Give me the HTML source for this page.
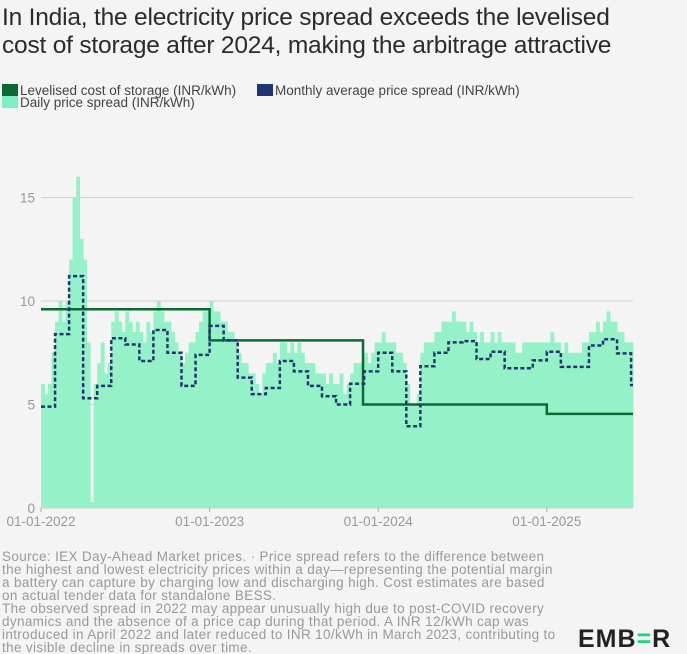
<!DOCTYPE html>
<html><head><meta charset="utf-8"><style>
body{margin:0;background:#f4f4f4;font-family:"Liberation Sans",sans-serif;}
#wrap{position:relative;width:687px;height:654px;overflow:hidden;background:#f4f4f4}
#title{position:absolute;left:2px;top:4px;font-size:24.5px;line-height:28px;color:#2b2b2b;letter-spacing:-0.2px;white-space:nowrap}
.leg{position:absolute;font-size:13.5px;color:#444;line-height:12px;white-space:nowrap}
.sw{display:inline-block;width:16px;height:12px;vertical-align:-1px;margin-right:2px}
#src{position:absolute;left:2px;top:550px;width:600px;font-size:13.5px;line-height:13px;color:#999;white-space:nowrap;letter-spacing:0.35px}
#logo{position:absolute;left:578px;top:625px;font-size:25px;font-weight:bold;color:#222;letter-spacing:1px}
</style></head><body>
<div id="wrap">
<div id="title">In India, the electricity price spread exceeds the levelised<br>cost of storage after 2024, making the arbitrage attractive</div>
<div class="leg" style="left:2px;top:84px"><span class="sw" style="background:#0a6b32"></span>Levelised cost of storage (INR/kWh)</div>
<div class="leg" style="left:257px;top:84px"><span class="sw" style="background:#1f3570"></span>Monthly average price spread (INR/kWh)</div>
<div class="leg" style="left:2px;top:96px"><span class="sw" style="background:#7af0c0"></span>Daily price spread (INR/kWh)</div>
<svg id="chart" width="687" height="654" style="position:absolute;left:0;top:0"></svg>
<div id="src">Source: IEX Day-Ahead Market prices. · Price spread refers to the difference between<br>the highest and lowest electricity prices within a day—representing the potential margin<br>a battery can capture by charging low and discharging high. Cost estimates are based<br>on actual tender data for standalone BESS.<br>The observed spread in 2022 may appear unusually high due to post-COVID recovery<br>dynamics and the absence of a price cap during that period. A INR 12/kWh cap was<br>introduced in April 2022 and later reduced to INR 10/kWh in March 2023, contributing to<br>the visible decline in spreads over time.</div>
<div id="logo">EMB<span style="color:#1fd47a">=</span>R</div>
</div>
<script>
const yTicks=[0,5,10,15];
const xTickLabels=["01-01-2022","01-01-2023","01-01-2024","01-01-2025"];
const xTickYears=[2022,2023,2024,2025];
// monthly average from Jan 2022 (index 0) to Jul 2025
const monthlyAvg=[4.9,8.4,11.2,5.3,5.9,8.2,7.9,7.1,8.6,7.5,5.9,7.4,
8.8,8.1,6.3,5.5,5.8,7.1,6.6,5.9,5.4,5.0,6.0,6.6,
7.5,6.6,3.95,6.85,7.5,8.0,8.06,7.2,7.55,6.75,6.75,7.13,
7.55,6.82,6.82,7.85,8.15,7.47,5.94];
// LCOS steps: start (year fraction), value
const lcosStarts=[2022.0,2023.0,2023.91,2025.0];
const lcosValues=[9.6,8.1,5.0,4.55];
// daily spread envelope, quarter-month resolution from Jan 2022
const dailySpread=[6,5.5,6,7.5, 9,10,9,10, 12,15,16,13, 12,8,0.3,6, 7,8,6.5,7, 9,9.5,9,8.5, 9.5,9,8.5,9, 8.5,8,9,8.5, 9.5,10,9.5,9, 9,8.5,8,7.5, 7,7.5,8,8, 8.5,9,9.5,9.5,
10,9.5,9.5,9, 9,8.5,8.5,8, 7.5,7,7,6.5, 6.5,6,5.5,6.5, 7,7,7.5,7, 8,8,7.5,8, 7.5,8,7.5,7, 7,7,6.5,6.5, 6.5,6,6.5,6, 6,6.5,5.5,6, 6.5,7,7,7, 7.5,7,7.5,8,
8,8.5,8,8, 8,7.5,7.5,7, 6,5,5,5.5, 7.5,8,8,8, 8.5,8.5,9,9, 9,9.5,9,9, 9,8.5,9,8.5, 8,8.5,8,8, 8.5,8,8.5,8, 8,8,8,7.5, 7.5,8,8,8, 8,8,8,8,
8,8.5,8,8, 7.5,8,7.5,7.5, 7.5,7.5,8,8, 8.5,8.5,9,8.5, 9,9.5,9,9, 8.5,8.5,8,8, 8];
const X0=41,PXY=168.6,Y0=508,PXU=20.7,XEND=633;
const xs=t=>X0+(t-2022)*PXY;
const ys=v=>Y0-v*PXU;
const svg=document.getElementById('chart');
const NS='http://www.w3.org/2000/svg';
function mk(tag,at){const e=document.createElementNS(NS,tag);for(const k in at)e.setAttribute(k,at[k]);svg.appendChild(e);return e;}
yTicks.forEach(v=>{
 if(v>0){const g=mk('line',{x1:X0,x2:XEND,y1:ys(v),y2:ys(v),stroke:'#cfcfcf','stroke-width':1});
 
 }
 const t=mk('text',{x:35,y:ys(v)+5,'text-anchor':'end','font-size':13.5,fill:'#999','font-family':'Liberation Sans, sans-serif'});
 t.textContent=v;
 
 
});
const q=1/48;
dailySpread.forEach((v,i)=>{
 const t0=2022+i*q; let x1=xs(t0),x2=Math.min(xs(t0+q),XEND);
 if(x1>=XEND)return;
 const r=mk('rect',{x:x1,y:ys(v),width:x2-x1+0.4,height:v*PXU,fill:'#95f2c8'});
 
 
});
const ax=mk('line',{x1:X0,x2:XEND,y1:Y0,y2:Y0,stroke:'#ccc'});


xTickYears.forEach((yr,i)=>{
 const x=xs(yr);
 mk('line',{x1:x,x2:x,y1:Y0,y2:Y0+4,stroke:'#aaa'});
 const t=mk('text',{x:x,y:Y0+18,'text-anchor':'middle','font-size':13.5,fill:'#999','font-family':'Liberation Sans, sans-serif'});
 t.textContent=xTickLabels[i];
 
 
});
let d='';
lcosStarts.forEach((s,i)=>{
 const e=i<lcosStarts.length-1?lcosStarts[i+1]:2022+(XEND-X0)/PXY;
 d+=(i?'L':'M')+xs(s)+','+ys(lcosValues[i])+'L'+xs(e)+','+ys(lcosValues[i]);
});
const lc=mk('path',{d:d,fill:'none',stroke:'#0a6b32','stroke-width':2.5});


let m='';
monthlyAvg.forEach((v,i)=>{
 const a=xs(2022+i/12),b=Math.min(xs(2022+(i+1)/12),XEND);
 m+=(i?'L':'M')+a+','+ys(v)+'L'+b+','+ys(v);
});
const ml=mk('path',{d:m,fill:'none',stroke:'#1f3570','stroke-width':2.5,'stroke-dasharray':'4,2.5'});


</script>
</body></html>
